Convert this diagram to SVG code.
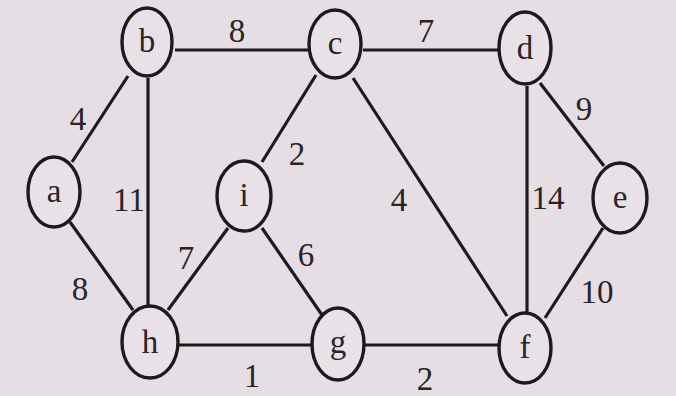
<svg xmlns="http://www.w3.org/2000/svg" width="676" height="396" viewBox="0 0 676 396">
<style>
.bg{fill:#e5dee5}
.n ellipse{fill:#e8e2e8;stroke:#1e1a1c;stroke-width:3.4}
.n text,.w{font-family:"Liberation Serif","Times New Roman",serif;font-size:33px;fill:#2a2426;text-anchor:middle}
.e line{stroke:#1e1a1c;stroke-width:3.2}
</style>
<rect class="bg" x="0" y="0" width="676" height="396"/>
<g id="edges" class="e">
<line x1="175" y1="50" x2="308" y2="50"/>
<line x1="363" y1="50" x2="498" y2="50"/>
<line x1="72" y1="162" x2="128" y2="76"/>
<line x1="148" y1="78" x2="148" y2="306"/>
<line x1="70" y1="222" x2="133" y2="310"/>
<line x1="228" y1="228" x2="168" y2="310"/>
<line x1="262" y1="228" x2="322" y2="315"/>
<line x1="316" y1="75" x2="262" y2="162"/>
<line x1="179" y1="345" x2="311" y2="345"/>
<line x1="364" y1="345" x2="498" y2="345"/>
<line x1="353" y1="78" x2="507" y2="316"/>
<line x1="527" y1="86" x2="527" y2="313"/>
<line x1="540" y1="83" x2="604" y2="166"/>
<line x1="603" y1="228" x2="545" y2="318"/>
</g>
<g id="weights">
<text class="w" x="237" y="42">8</text>
<text class="w" x="426" y="42">7</text>
<text class="w" x="78" y="130">4</text>
<text class="w" x="129" y="211">11</text>
<text class="w" x="297" y="165">2</text>
<text class="w" x="584" y="120">9</text>
<text class="w" x="399" y="211">4</text>
<text class="w" x="548" y="209">14</text>
<text class="w" x="186" y="269">7</text>
<text class="w" x="306" y="266">6</text>
<text class="w" x="80" y="300">8</text>
<text class="w" x="252" y="387">1</text>
<text class="w" x="425" y="390">2</text>
<text class="w" x="597" y="303">10</text>
</g>
<g id="node-b" class="n"><ellipse cx="147" cy="42" rx="25" ry="34"/><text x="147" y="52">b</text></g>
<g id="node-c" class="n"><ellipse cx="335" cy="44" rx="26" ry="34"/><text x="335" y="54">c</text></g>
<g id="node-d" class="n"><ellipse cx="525" cy="48" rx="26" ry="36"/><text x="525" y="59">d</text></g>
<g id="node-a" class="n"><ellipse cx="54" cy="192" rx="26" ry="35"/><text x="54" y="202">a</text></g>
<g id="node-i" class="n"><ellipse cx="244" cy="196" rx="27" ry="35"/><text x="244" y="206">i</text></g>
<g id="node-e" class="n"><ellipse cx="620" cy="198" rx="27" ry="35"/><text x="620" y="208">e</text></g>
<g id="node-h" class="n"><ellipse cx="150" cy="342" rx="28" ry="36"/><text x="150" y="353">h</text></g>
<g id="node-g" class="n"><ellipse cx="338" cy="344" rx="26" ry="36"/><text x="338" y="353">g</text></g>
<g id="node-f" class="n"><ellipse cx="525" cy="348" rx="26" ry="35"/><text x="525" y="358">f</text></g>
</svg>
